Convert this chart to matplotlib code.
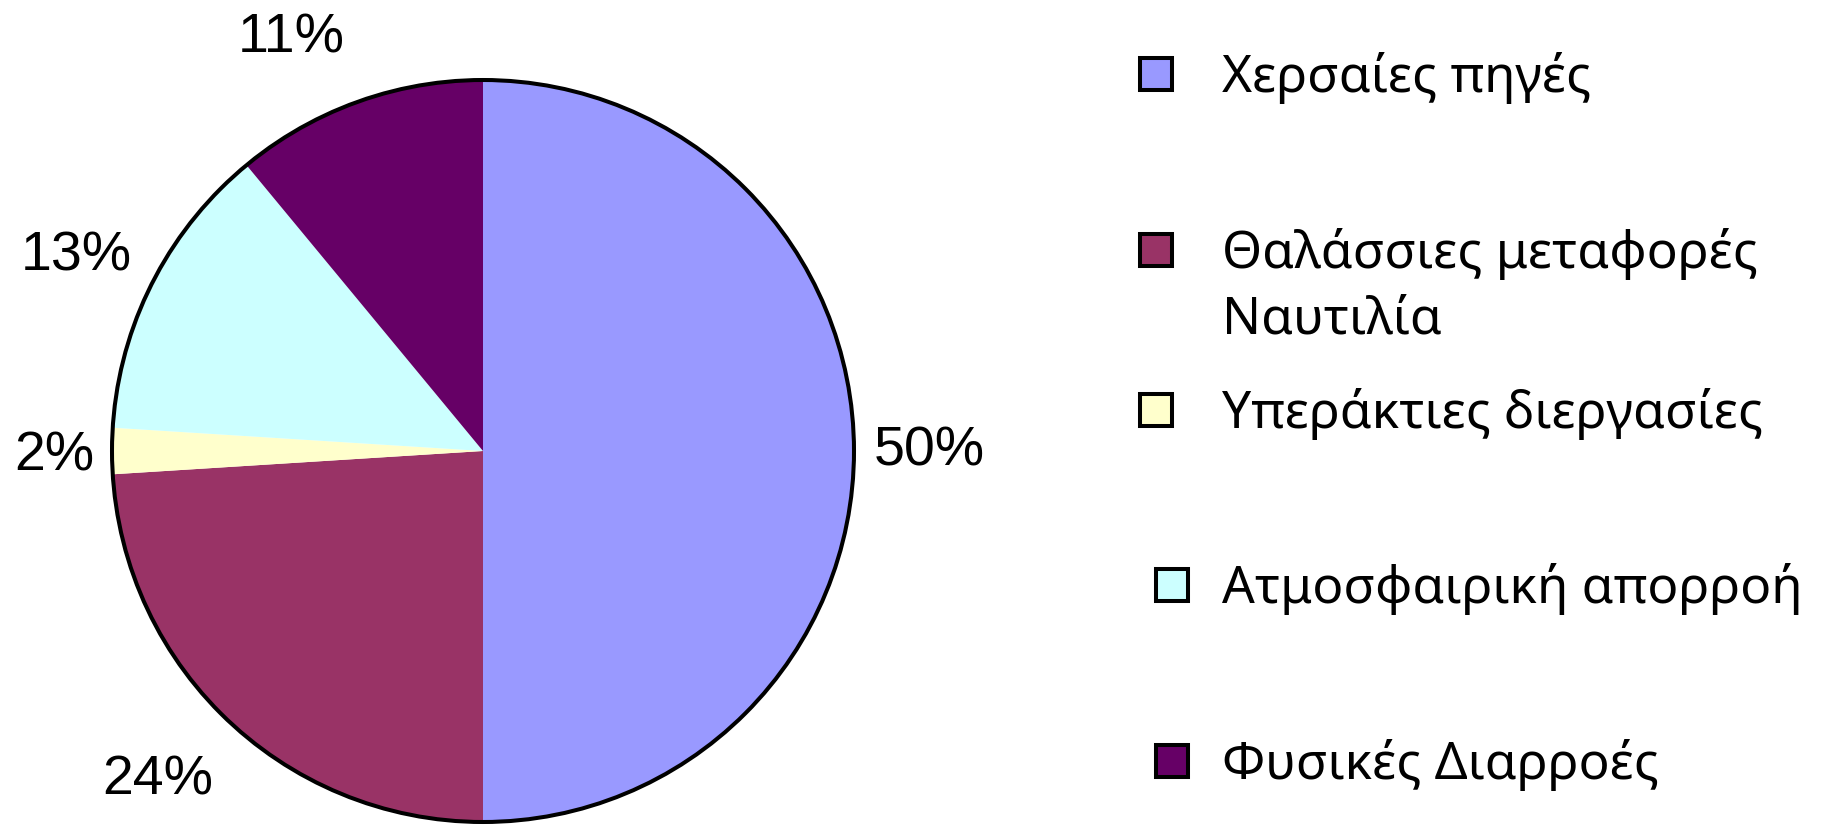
import matplotlib
matplotlib.use("Agg")
import numpy as np
import matplotlib.pyplot as plt
from matplotlib.patches import Circle, Rectangle

categories = ["Χερσαίες πηγές", "Θαλάσσιες μεταφορές\nΝαυτιλία", "Υπεράκτιες διεργασίες",
              "Ατμοσφαιρική απορροή", "Φυσικές Διαρροές"]
values = [50, 24, 2, 13, 11]
colors = ["#9999FF", "#993366", "#FFFFCC", "#CCFFFF", "#660066"]

W, H = 1828, 827
fig = plt.figure(figsize=(W / 100, H / 100), dpi=100)
ax = fig.add_axes([0, 0, 1, 1])
cx, cy, R = 483, H - 451, 371

wedges, texts, autotexts = ax.pie(
    values, colors=colors, startangle=90, counterclock=False,
    center=(cx, cy), radius=R, autopct=lambda p: f"{p:.0f}%", pctdistance=1.21,
    wedgeprops=dict(linewidth=0, antialiased=True), frame=True,
    textprops=dict(fontsize=40, family=["Liberation Sans", "DejaVu Sans"], color="black"))
ax.add_patch(Circle((cx, cy), R, fill=False, edgecolor="black", linewidth=2.9, zorder=5))

# label placement (style): distance relative to radius, angle offset in degrees
label_dist = [1.202, 1.248, 1.156, 1.216, 1.227]
label_dang = [0.0, -1.5, 0.7, 1.4, 5.1]
for w, t, d, da in zip(wedges, autotexts, label_dist, label_dang):
    th = np.deg2rad((w.theta1 + w.theta2) / 2 + da)
    t.set_position((cx + d * R * np.cos(th), cy + d * R * np.sin(th)))
    t.set_ha("center")
    t.set_va("center")

ax.set_xlim(0, W)
ax.set_ylim(0, H)
ax.set_aspect("equal")
ax.axis("off")

# legend
leg_y = [74, 250, 410, 585, 761]
leg_sq_x = [1138, 1138, 1138, 1154, 1154]
sq = 32
text_x = 1222
font = ["Noto Sans", "DejaVu Sans"]
for lbl, col, y, sx in zip(categories, colors, leg_y, leg_sq_x):
    ax.add_patch(Rectangle((sx + 2, H - y - sq / 2), sq, sq, facecolor=col,
                           edgecolor="black", linewidth=2.9, zorder=5))
    if "\n" in lbl:
        ax.text(text_x, H - y + 22, lbl, fontsize=37, family=font,
                va="top", ha="left", linespacing=1.36)
    else:
        ax.text(text_x, H - y - 4, lbl, fontsize=37, family=font,
                va="center", ha="left")

fig.savefig("out.png", dpi=100)
